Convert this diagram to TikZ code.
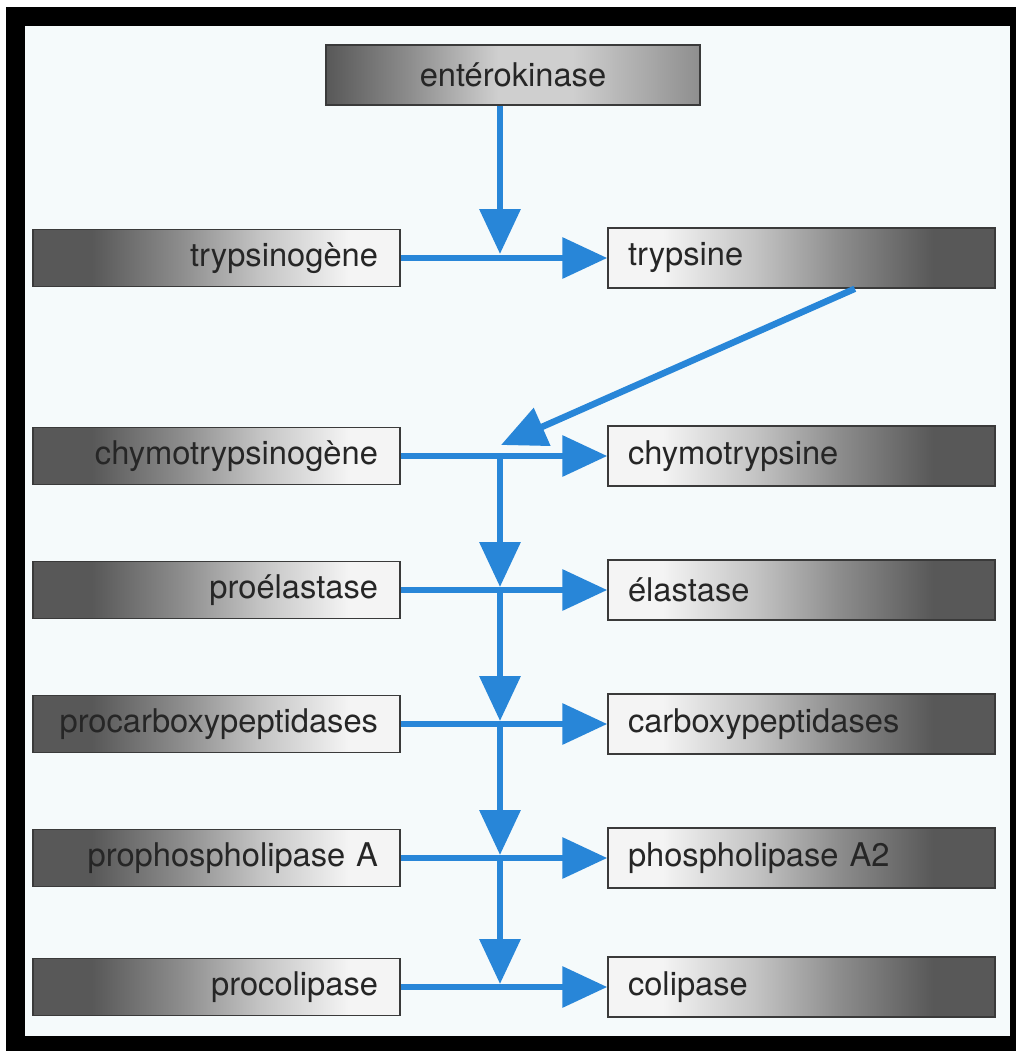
\documentclass[tikz,border=0pt]{standalone}
\usepackage{fontspec}
\setmainfont{TeX Gyre Heros}
\usetikzlibrary{arrows.meta}
\definecolor{boxdark}{HTML}{585858}
\definecolor{boxmid}{HTML}{8C8C8C}
\definecolor{boxpale}{HTML}{C4C4C4}
\definecolor{boxlight}{HTML}{F4F4F4}
\definecolor{topmid}{HTML}{CFCFCF}
\definecolor{topright}{HTML}{8E8E8E}
\definecolor{boxedge}{HTML}{3A3A3A}
\definecolor{arrowblue}{HTML}{2886D8}
\definecolor{bgpanel}{HTML}{F5FAFB}
\definecolor{txt}{HTML}{262626}
\pgfdeclarehorizontalshading{lshade}{100bp}{color(0bp)=(boxdark); color(25bp)=(boxdark); color(33bp)=(boxdark); color(45bp)=(boxmid); color(56bp)=(boxpale); color(68bp)=(boxlight); color(100bp)=(boxlight)}
\pgfdeclarehorizontalshading{rshade}{100bp}{color(0bp)=(boxlight); color(32bp)=(boxlight); color(44bp)=(boxpale); color(55bp)=(boxmid); color(67bp)=(boxdark); color(75bp)=(boxdark); color(100bp)=(boxdark)}
\pgfdeclarehorizontalshading{tshade}{100bp}{color(0bp)=(boxdark); color(25bp)=(boxdark); color(36bp)=(boxmid); color(48bp)=(topmid); color(58bp)=(topmid); color(75bp)=(topright); color(100bp)=(topright)}
\begin{document}
\begin{tikzpicture}[x=0.75pt,y=-0.75pt,
  box/.style={draw=boxedge, line width=1.1pt, font=\fontsize{24.5}{29}\selectfont, text=txt, inner ysep=0pt},
  lbox/.style={box, shade, shading=lshade, minimum height=42.75pt, text width=242.25pt, align=right, inner xsep=16.5pt},
  rbox/.style={box, shade, shading=rshade, minimum height=45pt, text width=260.25pt, align=left, inner xsep=15pt},
  tbox/.style={box, shade, shading=tshade, minimum height=45pt, text width=250pt, align=center, inner xsep=15.25pt},
  arr/.style={draw=arrowblue, line width=4.9pt, -{Triangle[length=33.75pt,width=30pt]}}
]
\useasboundingbox (0,0) rectangle (1016,1051);
\fill[black] (6,7) rectangle (1016,1051);
\fill[bgpanel] (25,26) rectangle (1010,1036);

\node[tbox] (ent) at (513,75) {entérokinase};

\node[lbox] (tgen) at (216.5,258) {trypsinogène};
\node[rbox] (tryp) at (801.5,258) {trypsine};
\node[lbox] (cgen) at (216.5,456) {chymotrypsinogène};
\node[rbox] (chym) at (801.5,456) {chymotrypsine};
\node[lbox] (pela) at (216.5,590) {proélastase};
\node[rbox] (ela) at (801.5,590) {élastase};
\node[lbox] (pcar) at (216.5,724) {procarboxypeptidases};
\node[rbox] (car) at (801.5,724) {carboxypeptidases};
\node[lbox] (ppho) at (216.5,858) {prophospholipase A};
\node[rbox] (pho) at (801.5,858) {phospholipase A2};
\node[lbox] (pcol) at (216.5,987) {procolipase};
\node[rbox] (col) at (801.5,987) {colipase};

\coordinate (j0) at (500,254);
\coordinate (j1) at (501,445);
\coordinate (v2) at (500,456);
\coordinate (a3) at (500,587);
\coordinate (a4) at (500,721);
\coordinate (a5) at (500,855);
\coordinate (a6) at (500,984);

\draw[arr] (tgen) -- (tryp);
\draw[arr] (cgen) -- (chym);
\draw[arr] (pela) -- (ela);
\draw[arr] (pcar) -- (car);
\draw[arr] (ppho) -- (pho);
\draw[arr] (pcol) -- (col);

\draw[arr] ([xshift=-9.75pt]ent.south) -- (j0);
\draw[arr] ([xshift=40pt]tryp.south) -- (j1);
\draw[arr] (v2) -- (a3);
\draw[arr] (a3) -- (a4);
\draw[arr] (a4) -- (a5);
\draw[arr] (a5) -- (a6);
\end{tikzpicture}
\end{document}
